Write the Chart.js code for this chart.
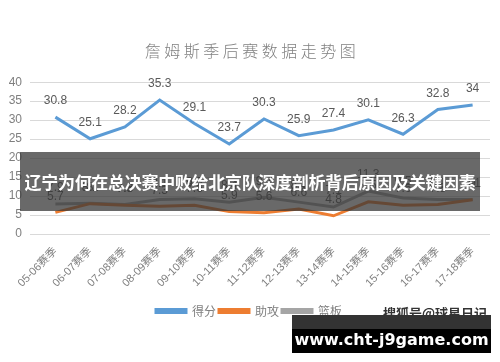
<!DOCTYPE html>
<html>
<head>
<meta charset="utf-8">
<script src="https://cdn.jsdelivr.net/npm/chart.js@4"></script>
<style>
    html, body { margin: 0; padding: 0; background: #fff; }
    #wrap { position: relative; width: 500px; height: 362px; overflow: hidden; }
    #chart { position: absolute; left: 0; top: 0; }
    .banner {
        position: absolute; left: 20px; top: 152px; width: 460px; height: 59px;
        background: rgba(55, 55, 55, 0.75); color: #fff;
        font: bold 17px "Noto Sans CJK SC", sans-serif;
        line-height: 59px; white-space: nowrap; text-align: center; letter-spacing: -0.3px;
    }
    .mark {
        position: absolute; left: 383px; top: 303px;
        font: bold 13px "Noto Sans CJK SC", sans-serif; color: #333;
    }
    .box { position: absolute; left: 292px; top: 315px; width: 199px; height: 38px; background: #000; }
    .box .top { height: 14px; background: rgba(60, 60, 60, 0.85); }
    .box .url {
        position: absolute; left: 0; right: 0; top: 13px; text-align: center; color: #fff;
        font: bold 16px "DejaVu Sans", sans-serif; line-height: 24px; white-space: nowrap;
    }
</style>
</head>
<body>
<div id="wrap">
    <canvas id="chart" width="500" height="362"></canvas>
    <div class="banner">辽宁为何在总决赛中败给北京队深度剖析背后原因及关键因素</div>
    <div class="box"><div class="top"></div><div class="url">www.cht-j9game.com</div></div>
    <div class="mark">搜狐号@球星日记</div>
</div>
<script>
(function () {
    "use strict";

    const chartTitle = '詹姆斯季后赛数据走势图';
    const seasons = ['05-06赛季', '06-07赛季', '07-08赛季', '08-09赛季', '09-10赛季', '10-11赛季', '11-12赛季',
        '12-13赛季', '13-14赛季', '14-15赛季', '15-16赛季', '16-17赛季', '17-18赛季'];
    const points = [30.8, 25.1, 28.2, 35.3, 29.1, 23.7, 30.3, 25.9, 27.4, 30.1, 26.3, 32.8, 34];
    const assists = [5.7, 8.0, 7.6, 7.3, 7.6, 5.9, 5.6, 6.6, 4.8, 8.5, 7.6, 7.8, 9.0];
    const rebounds = [7.9, 8.1, 7.8, 9.1, 9.3, 8.4, 9.7, 8.4, 7.1, 11.3, 9.5, 9.1, 9.1];
    const yTicks = [0, 5, 10, 15, 20, 25, 30, 35, 40];

    const fontFamily = '"Liberation Sans", "Noto Sans CJK SC", sans-serif';
    const cjkFont = '"Noto Sans CJK SC", sans-serif';
    const axisColor = '#7f7f7f';
    const labelColor = '#595959';

    /* value labels above each point */
    const valueLabels = {
        id: 'valueLabels',
        afterDatasetsDraw(chart) {
            const ctx = chart.ctx;
            ctx.save();
            ctx.font = '12px ' + fontFamily;
            ctx.fillStyle = labelColor;
            ctx.textAlign = 'center';
            ctx.textBaseline = 'bottom';
            chart.data.datasets.forEach(function (ds, i) {
                chart.getDatasetMeta(i).data.forEach(function (pt, j) {
                    ctx.fillText(String(ds.data[j]), pt.x, pt.y - 10);
                });
            });
            ctx.restore();
        }
    };

    /* title with letter spacing (built-in title only reserves the room) */
    const spacedTitle = {
        id: 'spacedTitle',
        afterDraw(chart) {
            const ctx = chart.ctx;
            ctx.save();
            ctx.font = '300 16px ' + cjkFont;
            ctx.letterSpacing = '3.5px';
            ctx.fillStyle = '#808080';
            ctx.textAlign = 'center';
            ctx.textBaseline = 'middle';
            ctx.fillText(chartTitle, chart.width / 2 + 2, 51);
            ctx.restore();
        }
    };

    const data = {
        labels: seasons,
        datasets: [{
            label: '得分',
            data: points,
            borderColor: '#5B9BD5',
            backgroundColor: '#5B9BD5'
        }, {
            label: '助攻',
            data: assists,
            borderColor: '#ED7D31',
            backgroundColor: '#ED7D31'
        }, {
            label: '篮板',
            data: rebounds,
            borderColor: '#A5A5A5',
            backgroundColor: '#A5A5A5'
        }]
    };

    const config = {
        type: 'line',
        data: data,
        options: {
            responsive: false,
            animation: false,
            elements: {
                line: { borderWidth: 3, tension: 0 },
                point: { radius: 0 }
            },
            layout: { padding: { left: 8, right: 10, top: 0, bottom: 35 } },
            plugins: {
                title: {
                    display: true,
                    text: chartTitle,
                    color: 'rgba(0,0,0,0)',
                    font: { family: cjkFont, size: 16, weight: 'normal' },
                    padding: { top: 40, bottom: 23 }
                },
                legend: {
                    position: 'bottom',
                    labels: {
                        color: axisColor,
                        font: { family: cjkFont, size: 12 },
                        boxWidth: 30,
                        boxHeight: 3,
                        padding: 3
                    }
                },
                tooltip: { enabled: false }
            },
            scales: {
                x: {
                    offset: true,
                    grid: { display: false },
                    border: { display: false },
                    afterFit: function (axis) { axis.height = 68; },
                    ticks: {
                        color: axisColor,
                        font: { family: fontFamily, size: 11 },
                        minRotation: 45,
                        maxRotation: 45,
                        autoSkip: false
                    }
                },
                y: {
                    min: 0,
                    max: 40,
                    afterBuildTicks: function (axis) {
                        axis.ticks = yTicks.map(function (v) { return { value: v }; });
                    },
                    afterFit: function (axis) { axis.width = 30; },
                    grid: { color: '#D9D9D9' },
                    border: { display: false },
                    ticks: {
                        color: axisColor,
                        font: { family: fontFamily, size: 12 },
                        padding: 8
                    }
                }
            }
        },
        plugins: [valueLabels, spacedTitle]
    };

    new Chart(document.getElementById('chart'), config);
})();
</script>
</body>
</html>
